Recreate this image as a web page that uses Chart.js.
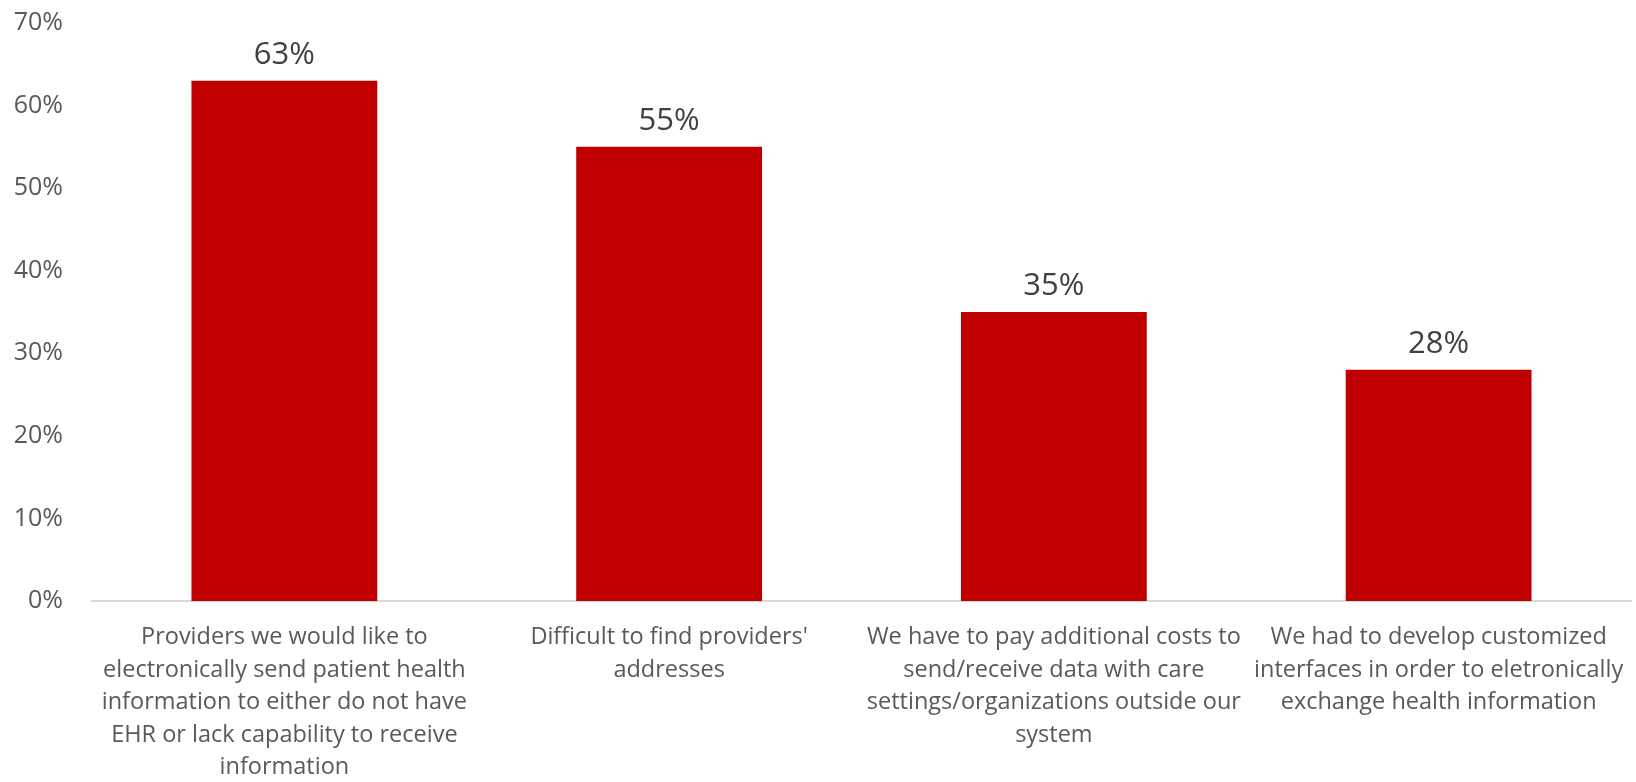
<!DOCTYPE html>
<html>
<head>
<meta charset="utf-8">
<script src="https://cdn.jsdelivr.net/npm/chart.js@4/dist/chart.umd.min.js"></script>
<style>
  html, body { margin: 0; padding: 0; background: #fff; }
  #wrap { width: 1636px; height: 782px; position: relative; }
</style>
</head>
<body>
<div id="wrap"><canvas id="barriersChart"></canvas></div>
<script>
// categories, one array of lines per bar
const categories = [
    ['Providers we would like to', 'electronically send patient health', 'information to either do not have', 'EHR or lack capability to receive', 'information'],
    ["Difficult to find providers'", 'addresses'],
    ['We have to pay additional costs to', 'send/receive data with care', 'settings/organizations outside our', 'system'],
    ['We had to develop customized', 'interfaces in order to eletronically', 'exchange health information']
];
const percentValues = [63, 55, 35, 28];
const yTicks = [0, 10, 20, 30, 40, 50, 60, 70];

const textFont = '"Open Sans", "Noto Sans", sans-serif';

// writes the percentage above every bar
const valueLabels = {
    id: 'valueLabels',
    afterDatasetsDraw(chart) {
        const ctx = chart.ctx;
        const meta = chart.getDatasetMeta(0);
        ctx.save();
        ctx.font = '31px ' + textFont;
        ctx.fillStyle = '#404040';
        ctx.textAlign = 'center';
        ctx.textBaseline = 'alphabetic';
        meta.data.forEach((bar, i) => {
            ctx.fillText(percentValues[i] + '%', bar.x, bar.y - 17);
        });
        ctx.restore();
    }
};

new Chart(document.getElementById('barriersChart'), {
    type: 'bar',
    data: {
        labels: categories,
        datasets: [{
            data: percentValues,
            backgroundColor: '#C00000',
            borderWidth: 0,
            categoryPercentage: 1,
            barPercentage: 0.483
        }]
    },
    options: {
        responsive: true,
        maintainAspectRatio: false,
        animation: false,
        layout: { padding: { top: 23, right: 5, bottom: 0, left: 0 } },
        plugins: { legend: { display: false }, tooltip: { enabled: false } },
        scales: {
            x: {
                grid: { display: false, drawTicks: false },
                border: { display: true, color: '#D9D9D9', width: 2 },
                ticks: {
                    color: '#595959',
                    font: { family: textFont, size: 23.5, lineHeight: 1.385 },
                    padding: 20,
                    maxRotation: 0,
                    autoSkip: false
                },
                afterFit(scale) {
                    scale.height = 181;
                    scale.paddingLeft = 0;
                    scale.paddingRight = 0;
                }
            },
            y: {
                min: 0,
                max: 70,
                grid: { display: false, drawTicks: false },
                border: { display: false },
                afterBuildTicks(scale) { scale.ticks = yTicks.map(v => ({ value: v })); },
                ticks: {
                    color: '#595959',
                    font: { family: textFont, size: 25 },
                    padding: 29,
                    callback: v => v + '%'
                },
                afterFit(scale) {
                    scale.width = 92;
                    scale.paddingTop = 0;
                    scale.paddingBottom = 0;
                }
            }
        }
    },
    plugins: [valueLabels]
});
</script>
</body>
</html>
